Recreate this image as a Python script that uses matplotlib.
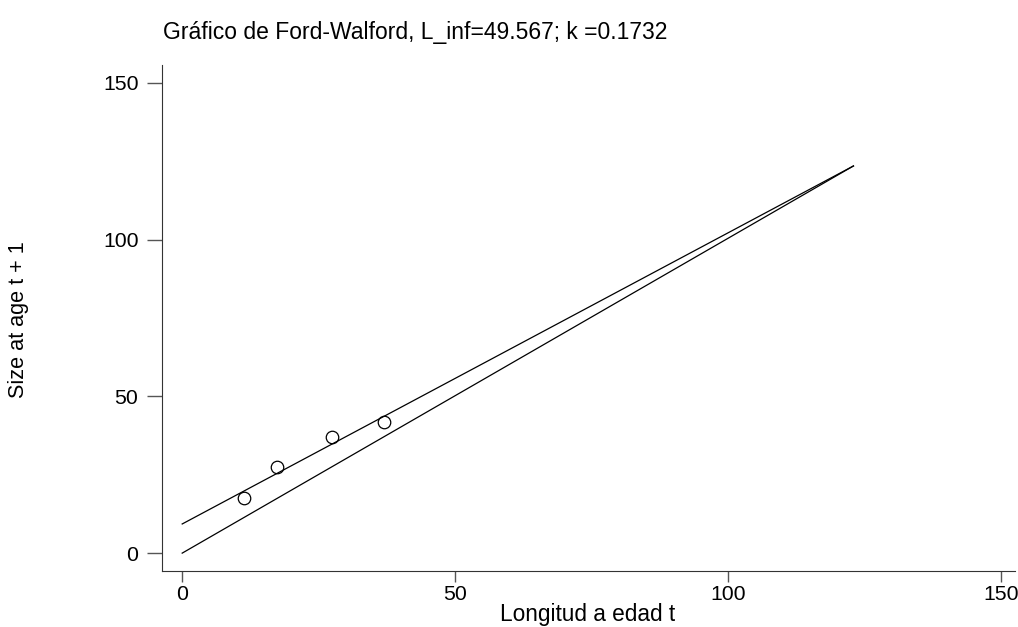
import numpy as np
import matplotlib
matplotlib.use("Agg")
import matplotlib.pyplot as plt

plt.rcParams['font.family'] = ['Liberation Sans', 'DejaVu Sans']

# observed lengths: age t vs age t+1
len_t = [11.4, 17.4, 27.5, 37.0]
len_t1 = [17.5, 27.4, 37.0, 41.8]

# fitted Ford-Walford line and the 1:1 line (endpoints)
fit_x = [0, 123]
fit_y = [9.3, 123.5]
ident_x = [0, 123]
ident_y = [0, 123.5]

xticks = [0, 50, 100, 150]
yticks = [0, 50, 100, 150]
title = "Gráfico de Ford-Walford, L_inf=49.567; k =0.1732"

fig = plt.figure(figsize=(10.18, 6.27), dpi=100)
ax = fig.add_axes([162/1018, 1 - 571/627, (1015-162)/1018, (571-65)/627])

ax.plot(fit_x, fit_y, color='black', lw=0.9)
ax.plot(ident_x, ident_y, color='black', lw=0.9)
ax.plot(len_t, len_t1, 'o', mfc='none', mec='black', ms=9, mew=0.9)

ax.set_xlim(-3.7, 152.6)
ax.set_ylim(-5.7, 155.7)
ax.set_xticks(xticks)
ax.set_yticks(yticks)
ax.tick_params(axis='x', labelsize=15.3, length=8, width=1, color='#555555', pad=2)
ax.tick_params(axis='y', labelsize=15.3, length=11, width=1, color='#555555', pad=6)
for s in ['top', 'right']:
    ax.spines[s].set_visible(False)
for s in ['left', 'bottom']:
    ax.spines[s].set_color('#333333')

fig.text(163/1018, 1 - 39/627, title, fontsize=16.5, va='baseline', ha='left')
fig.text(588/1018, 1 - 615/627, "Longitud a edad t", fontsize=16.3, ha='center', va='center')
fig.text(19/1018, 1 - 320/627, "Size at age t + 1", fontsize=15.6, rotation=90, ha='center', va='center')

fig.savefig("out.png", dpi=100)
